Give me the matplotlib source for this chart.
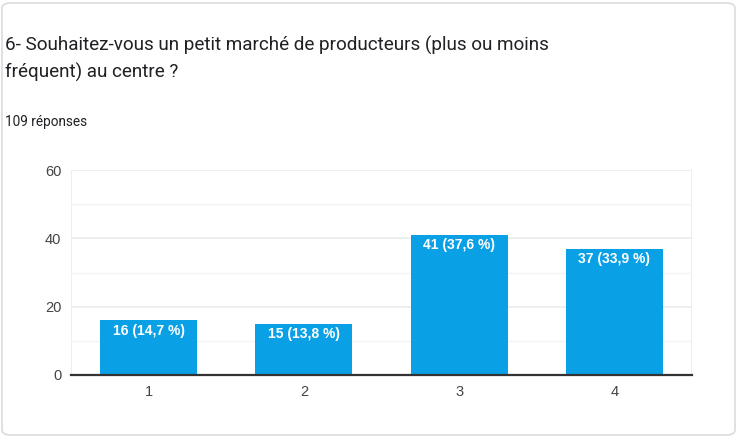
import matplotlib.pyplot as plt
from matplotlib.patches import FancyBboxPatch

categories = ["1", "2", "3", "4"]
counts = [16, 15, 41, 37]
percents = ["14,7", "13,8", "37,6", "33,9"]

fig = plt.figure(figsize=(7.37, 4.37), dpi=100)

# card background, kept behind the axes
card = FancyBboxPatch((2 / 737, 2 / 437), 733 / 737, 432 / 437,
                      boxstyle="round,pad=0,rounding_size=0.012",
                      transform=fig.transFigure, facecolor="white",
                      edgecolor="#dadce0", linewidth=1.2, zorder=-10)
fig.patches.append(card)

fig.text(5 / 737, 1 - 45 / 437, "6- Souhaitez-vous un petit marché de producteurs (plus ou moins",
         fontsize=13.6, family="Roboto", color="#202124", va="center")
fig.text(5 / 737, 1 - 72 / 437, "fréquent) au centre ?",
         fontsize=13.6, family="Roboto", color="#202124", va="center")
fig.text(5 / 737, 1 - 122 / 437, "109 réponses",
         fontsize=9.8, family="Roboto", color="#202124", va="center")

ax = fig.add_axes([71 / 737, 1 - 375 / 437, 621 / 737, 205 / 437])
ax.patch.set_alpha(0)
x = range(len(categories))
bars = ax.bar(x, counts, width=0.625, color="#0aa0e6", zorder=3)

for b, c, p in zip(bars, counts, percents):
    ax.text(b.get_x() + b.get_width() / 2, c - 1.0, f"{c} ({p} %)",
            ha="center", va="top", color="white", fontsize=10,
            family="Liberation Sans", fontweight="bold", zorder=4)

ax.set_xlim(-0.5, 3.5)
ax.set_ylim(0, 60)
ax.set_yticks([0, 20, 40, 60])
ax.set_yticks([10, 30, 50], minor=True)
ax.set_xticks(list(x))
ax.set_xticklabels(categories)
ax.set_xticks([-0.5, 3.5], minor=True)
ax.grid(axis="y", which="major", color="#ebebeb", linewidth=1.2, zorder=0)
ax.grid(axis="y", which="minor", color="#f3f3f3", linewidth=1.0, zorder=0)
ax.grid(axis="x", which="minor", color="#ebebeb", linewidth=1.2, zorder=0)
ax.tick_params(axis="both", which="both", length=0, labelsize=10.5,
               labelcolor="#444444", pad=7)
for lbl in ax.get_xticklabels() + ax.get_yticklabels():
    lbl.set_family("Liberation Sans")
for s in ["top", "right", "left"]:
    ax.spines[s].set_visible(False)
ax.spines["bottom"].set_color("#333333")
ax.spines["bottom"].set_linewidth(1.6)
ax.spines["bottom"].set_zorder(5)

fig.savefig("out.png", dpi=100)
